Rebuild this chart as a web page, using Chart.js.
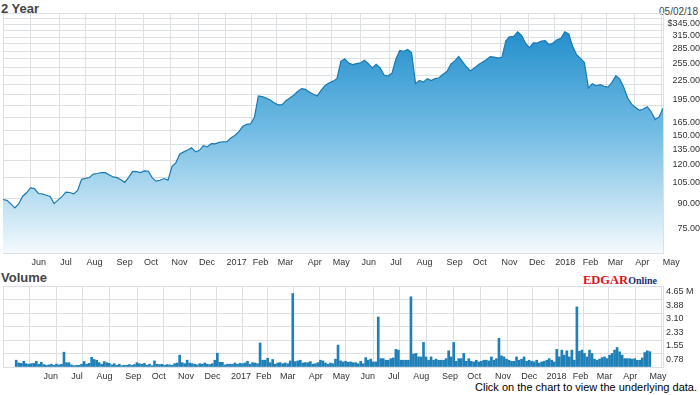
<!DOCTYPE html>
<html>
<head>
<meta charset="utf-8">
<title>2 Year</title>
<script src="https://cdn.jsdelivr.net/npm/chart.js@4.4.1/dist/chart.umd.min.js"></script>
<style>
  body { margin: 0; background: #fff; width: 700px; height: 395px; overflow: hidden; position: relative;
         font-family: "Liberation Sans", Arial, sans-serif; }
  canvas { position: absolute; left: 0; }
  #price { top: 0; }
  #volume { top: 280px; }
  .lbl { position: absolute; white-space: nowrap; line-height: 1; color: #444; }
  #title { left: 1px; top: 2px; font-size: 13px; font-weight: bold; }
  #date { right: 2px; top: 7px; font-size: 10px; }
  #volTitle { left: 1px; top: 271px; font-size: 13px; font-weight: bold; }
  #edgar { left: 583px; top: 271px; font-family: "Liberation Serif", "Times New Roman", serif; font-weight: bold; }
  #edgar .e1 { color: #d9121b; font-size: 12.5px; }
  #edgar .e2 { color: #1b2f6e; font-size: 10px; }
  #note { right: 3px; top: 382px; font-size: 11px; color: #000; }
</style>
</head>
<body>
<div class="lbl" id="title">2 Year</div>
<div class="lbl" id="date">05/02/18</div>
<div class="lbl" id="volTitle">Volume</div>
<div class="lbl" id="edgar"><span class="e1">EDGAR</span><span class="e2">Online</span></div>
<div class="lbl" id="note">Click on the chart to view the underlying data.</div>
<canvas id="price" width="700" height="270"></canvas>
<canvas id="volume" width="700" height="110"></canvas>
<script>
// x axis is in trading days since 05/02/16
const lastIndex = 504;
const priceStep = 3;
const volumeStep = 2;

const monthStarts = [21, 43, 63, 86, 107, 128, 149, 170, 190, 209, 232, 251,
                     273, 295, 315, 338, 358, 380, 401, 421, 442, 461, 482, 503];
const monthLabels = ['Jun', 'Jul', 'Aug', 'Sep', 'Oct', 'Nov', 'Dec', '2017', 'Feb', 'Mar', 'Apr', 'May',
                     'Jun', 'Jul', 'Aug', 'Sep', 'Oct', 'Nov', 'Dec', '2018', 'Feb', 'Mar', 'Apr', 'May'];

const priceMin = 60;
const priceMax = 359;
const priceGrid = [60, 75, 90, 105, 120, 135, 150, 165, 180, 195, 210, 225, 240, 255, 270, 285, 300, 315, 330, 345];
const priceLabeled = [75, 90, 105, 120, 135, 150, 165, 195, 225, 255, 285, 315, 345];

const volumeMax = 4.65;
const volumeGrid = [0, 0.775, 1.55, 2.325, 3.1, 3.875, 4.65];
const volumeLabels = ['', '0.78', '1.55', '2.33', '3.10', '3.88', '4.65 M'];

// closing price, every 3rd trading day
const prices = [
  89.4, 88.8, 86.5, 84.0, 86.5, 91.6, 94.0, 97.5, 97.0, 93.5,
  93.2, 92.3, 91.5, 86.7, 89.0, 91.3, 94.5, 94.2, 93.2, 95.7,
  104.0, 104.6, 105.3, 108.0, 108.5, 109.3, 109.2, 107.5, 105.8, 105.2,
  103.6, 101.6, 105.5, 110.2, 110.0, 109.2, 110.7, 110.4, 105.0, 102.5,
  103.2, 104.5, 103.3, 114.2, 117.5, 125.5, 127.5, 129.3, 131.4, 127.5,
  129.0, 133.5, 132.3, 135.5, 135.4, 136.8, 137.5, 137.5, 141.5, 144.0,
  148.0, 154.0, 156.5, 157.0, 165.0, 193.5, 192.5, 190.6, 187.8, 184.0,
  181.0, 181.0, 186.7, 190.5, 194.5, 200.0, 204.3, 203.3, 199.0, 196.0,
  193.5, 202.0, 209.0, 213.0, 216.0, 220.0, 250.5, 255.3, 247.0, 244.5,
  246.2, 247.5, 252.5, 246.0, 238.5, 244.8, 238.5, 226.0, 224.5, 229.0,
  254.3, 271.5, 270.0, 273.5, 267.5, 212.0, 217.0, 214.5, 220.0, 217.0,
  220.0, 221.5, 227.5, 232.0, 245.0, 251.2, 259.5, 249.5, 240.0, 233.2,
  238.5, 244.0, 248.5, 253.5, 259.3, 258.5, 256.5, 258.0, 292.0, 301.0,
  301.5, 312.0, 304.0, 286.5, 277.0, 287.5, 287.0, 291.0, 292.0, 283.5,
  287.0, 293.8, 297.5, 312.0, 307.0, 280.0, 263.0, 256.0, 248.0, 205.5,
  212.0, 208.8, 210.5, 208.0, 206.5, 214.0, 225.0, 219.3, 206.5, 190.5,
  182.0, 177.5, 173.8, 175.5, 178.5, 172.0, 162.3, 165.5, 176.5
];

// volume in millions, every 2nd trading day
const volumes = [
  0.39, 0.23, 0.21, 0.33, 0.19, 0.16, 0.19, 0.21, 0.33, 0.16,
  0.27, 0.14, 0.10, 0.12, 0.16, 0.10, 0.17, 0.12, 0.16, 0.85,
  0.25, 0.25, 0.12, 0.08, 0.10, 0.10, 0.16, 0.31, 0.16, 0.21,
  0.56, 0.43, 0.39, 0.25, 0.16, 0.31, 0.25, 0.21, 0.12, 0.19,
  0.10, 0.16, 0.08, 0.10, 0.10, 0.14, 0.10, 0.14, 0.25, 0.19,
  0.16, 0.21, 0.10, 0.16, 0.08, 0.35, 0.16, 0.14, 0.16, 0.10,
  0.14, 0.12, 0.10, 0.19, 0.23, 0.68, 0.25, 0.19, 0.39, 0.23,
  0.19, 0.16, 0.12, 0.19, 0.16, 0.23, 0.16, 0.14, 0.19, 0.39,
  0.79, 0.27, 0.27, 0.12, 0.16, 0.16, 0.16, 0.23, 0.16, 0.21,
  0.19, 0.23, 0.33, 0.16, 0.25, 0.23, 0.19, 1.38, 0.39, 0.39,
  0.50, 0.25, 0.43, 0.16, 0.23, 0.25, 0.19, 0.23, 0.19, 0.35,
  4.22, 0.31, 0.35, 0.39, 0.23, 0.25, 0.25, 0.31, 0.16, 0.19,
  0.25, 0.39, 0.35, 0.23, 0.16, 0.23, 0.19, 0.45, 1.26, 0.35,
  0.29, 0.33, 0.27, 0.29, 0.25, 0.25, 0.19, 0.33, 0.19, 0.54,
  0.39, 0.45, 0.29, 0.29, 2.87, 0.48, 0.48, 0.39, 0.39, 0.48,
  0.52, 1.01, 0.97, 0.39, 0.39, 0.39, 0.39, 4.03, 0.74, 0.78,
  0.58, 0.58, 1.41, 0.58, 0.39, 0.58, 0.39, 0.45, 0.39, 0.39,
  0.39, 0.48, 0.93, 0.58, 1.41, 0.33, 0.48, 0.48, 0.78, 0.33,
  0.48, 0.33, 0.29, 0.39, 0.29, 0.33, 0.39, 0.39, 0.35, 0.58,
  0.39, 0.48, 1.65, 0.64, 0.58, 0.45, 0.39, 0.33, 0.33, 0.58,
  0.39, 0.45, 0.58, 0.33, 0.39, 0.33, 0.29, 0.39, 0.23, 0.29,
  0.33, 0.39, 0.48, 0.39, 0.29, 1.01, 0.58, 0.97, 0.68, 0.93,
  0.58, 0.97, 0.39, 3.45, 0.90, 0.97, 0.78, 0.58, 0.97, 0.78,
  0.45, 0.39, 0.45, 0.54, 0.58, 0.48, 0.68, 0.78, 0.97, 1.12,
  0.87, 0.68, 0.48, 0.48, 0.48, 0.45, 0.48, 0.39, 0.39, 0.52,
  0.83, 0.93, 0.88
];

const gridColor = '#dcdfe4';
const tickColor = '#333';
const tickFont = { family: '"Liberation Sans", Arial, sans-serif', size: 9 };
const lineColor = '#1b79b2';
const barColor = '#1f80b8';

function noPadding(scale) {
  scale.paddingTop = 0;
  scale.paddingBottom = 0;
  scale.paddingLeft = 0;
  scale.paddingRight = 0;
}

function monthAxis(height) {
  return {
    type: 'linear',
    min: 0,
    max: lastIndex,
    grid: { color: gridColor, drawTicks: false },
    border: { color: gridColor },
    ticks: {
      autoSkip: false,
      maxRotation: 0,
      align: 'start',
      labelOffset: 1,
      padding: 4,
      color: tickColor,
      font: tickFont,
      callback: (v) => {
        const i = monthStarts.indexOf(v);
        return i < 0 ? '' : monthLabels[i];
      }
    },
    afterBuildTicks: (s) => { s.ticks = [0, ...monthStarts].map(v => ({ value: v })); },
    afterFit: (s) => { s.height = height; noPadding(s); }
  };
}

function priceFill(context) {
  const { ctx, chartArea } = context.chart;
  if (!chartArea) return 'rgba(0,0,0,0)';
  const g = ctx.createLinearGradient(0, chartArea.top, 0, chartArea.bottom);
  g.addColorStop(0, '#1487c8');
  g.addColorStop(0.5, '#74bde4');
  g.addColorStop(1, '#f4fafd');
  return g;
}

new Chart(document.getElementById('price'), {
  type: 'line',
  data: {
    datasets: [{
      data: prices.map((p, k) => ({ x: k * priceStep, y: p })),
      borderColor: lineColor,
      borderWidth: 1.2,
      pointRadius: 0,
      tension: 0,
      fill: 'start',
      backgroundColor: priceFill
    }]
  },
  options: {
    responsive: false,
    animation: false,
    layout: { padding: { top: 13, left: 3, right: 0, bottom: 0 } },
    plugins: { legend: { display: false }, tooltip: { enabled: false } },
    scales: {
      x: monthAxis(17),
      y: {
        type: 'logarithmic',
        position: 'right',
        min: priceMin,
        max: priceMax,
        grid: { color: gridColor, drawTicks: false },
        border: { color: gridColor },
        ticks: {
          autoSkip: false,
          crossAlign: 'far',
          padding: 3,
          labelOffset: 5,
          color: tickColor,
          font: tickFont,
          callback: (v) => {
            if (!priceLabeled.includes(v)) return '';
            const top = Math.max(...priceLabeled);
            return (v === top ? '$' : '') + v.toFixed(2);
          }
        },
        afterBuildTicks: (s) => { s.ticks = [...priceGrid, priceMax].map(v => ({ value: v })); },
        afterFit: (s) => { s.width = 37; noPadding(s); }
      }
    }
  }
});

new Chart(document.getElementById('volume'), {
  type: 'bar',
  data: {
    datasets: [{
      data: volumes.map((v, k) => ({ x: k * volumeStep, y: v })),
      backgroundColor: barColor,
      borderWidth: 0,
      barThickness: 2
    }]
  },
  options: {
    responsive: false,
    animation: false,
    layout: { padding: { top: 6, left: 3, right: 0, bottom: 0 } },
    plugins: { legend: { display: false }, tooltip: { enabled: false } },
    scales: {
      x: monthAxis(23),
      y: {
        type: 'linear',
        position: 'right',
        min: 0,
        max: volumeMax,
        grid: { color: gridColor, drawTicks: false },
        border: { color: gridColor },
        ticks: {
          autoSkip: false,
          crossAlign: 'near',
          padding: 3,
          labelOffset: 6,
          color: tickColor,
          font: tickFont,
          callback: (v) => {
            const i = volumeGrid.indexOf(v);
            return i < 0 ? '' : volumeLabels[i];
          }
        },
        afterBuildTicks: (s) => { s.ticks = volumeGrid.map(v => ({ value: v })); },
        afterFit: (s) => { s.width = 37; noPadding(s); }
      }
    }
  }
});
</script>
</body>
</html>
